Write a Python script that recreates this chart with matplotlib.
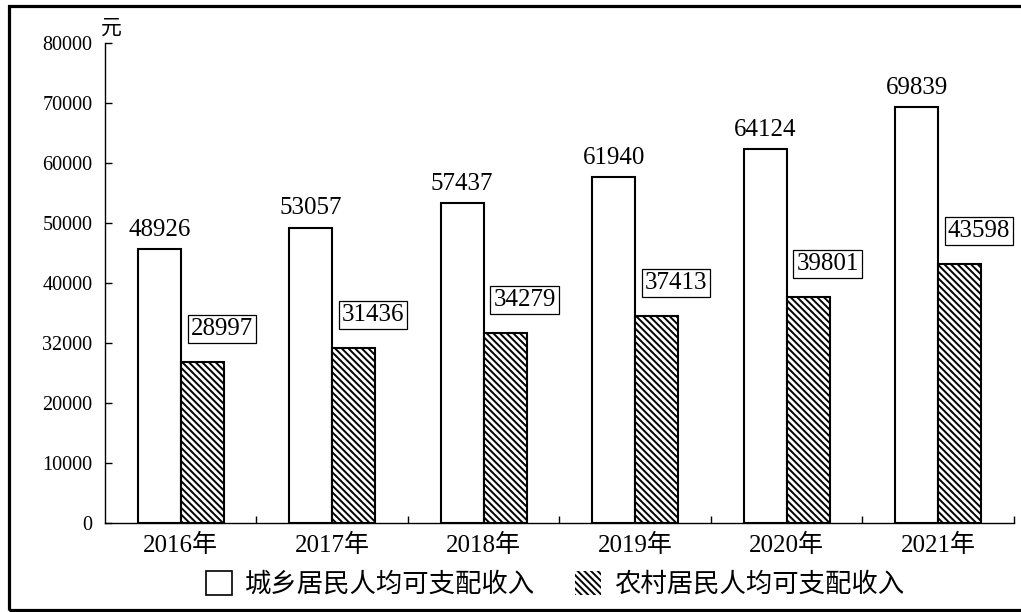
import matplotlib
matplotlib.use("Agg")
import matplotlib.pyplot as plt
from matplotlib.patches import Patch, Rectangle
import numpy as np

plt.rcParams['font.family'] = ['Liberation Serif', 'Noto Sans CJK SC']
plt.rcParams['hatch.linewidth'] = 1.4

years = ['2016年', '2017年', '2018年', '2019年', '2020年', '2021年']
# bar heights as drawn in the picture
urban_bar = [45600, 49200, 53300, 57600, 62300, 69300]
rural_bar = [26800, 29100, 31600, 34500, 37600, 43100]
# printed labels
urban_lbl = ['48926', '53057', '57437', '61940', '64124', '69839']
rural_lbl = ['28997', '31436', '34279', '37413', '39801', '43598']
ytick_vals = [0, 10000, 20000, 30000, 40000, 50000, 60000, 70000, 80000]
ytick_lbls = ['0', '10000', '20000', '32000', '40000', '50000', '60000', '70000', '80000']
legend_lbls = ['城乡居民人均可支配收入', '农村居民人均可支配收入']

HATCH = '\\' * 5

fig = plt.figure(figsize=(10.21, 6.12), dpi=100)
ax = fig.add_axes([0.1028, 0.1454, 0.8903, 0.7843])

x = np.arange(len(years))
w = 0.284
b1 = ax.bar(x - w / 2, urban_bar, w, color='white', edgecolor='black', linewidth=1.5)
b2 = ax.bar(x + w / 2, rural_bar, w, color='white', edgecolor='black', linewidth=1.5,
            hatch=HATCH)

for r, t in zip(b1, urban_lbl):
    ax.annotate(t, (r.get_x() + r.get_width() / 2, r.get_height()),
                xytext=(0, 14), textcoords='offset points',
                ha='center', va='center', fontsize=18)
for r, t in zip(b2, rural_lbl):
    ax.annotate(t, (r.get_x() + r.get_width() / 2, r.get_height()),
                xytext=(14, 24), textcoords='offset points',
                ha='center', va='center', fontsize=18,
                bbox=dict(boxstyle='square,pad=0.12', fc='white', ec='black', lw=0.9))

ax.set_xlim(-0.5, len(years) - 0.5)
ax.set_ylim(0, 80000)
ax.set_yticks(ytick_vals)
ax.set_yticklabels(ytick_lbls, fontsize=14.5)
ax.set_xticks(x)
ax.set_xticklabels(years, fontsize=18)
ax.set_xticks(list(x[1:] - 0.5) + [len(years) - 0.5], minor=True)
ax.tick_params(axis='x', which='major', length=0, pad=8)
ax.tick_params(axis='x', which='minor', direction='in', length=5, width=1)
ax.tick_params(axis='y', direction='in', length=5, width=1, pad=9)
for s in ['top', 'right']:
    ax.spines[s].set_visible(False)
for s in ['left', 'bottom']:
    ax.spines[s].set_linewidth(1)

fig.text(0.109, 0.952, '元', fontsize=15, ha='center', va='center')

handles = [Patch(facecolor='white', edgecolor='black', linewidth=1.2),
           Patch(facecolor='white', edgecolor='black', linewidth=0, hatch=HATCH)]
fig.legend(handles, legend_lbls, loc='center', bbox_to_anchor=(0.5436, 0.0458),
           ncol=2, frameon=False, fontsize=19, handlelength=1.0, handleheight=1.0,
           handletextpad=0.5, columnspacing=1.5)

fig.patches.append(Rectangle((8.5 / 1021, 2 / 612), 1.2, 604 / 612, transform=fig.transFigure,
                             fill=False, edgecolor='black', linewidth=2.3))

fig.savefig('out.png', dpi=100)
